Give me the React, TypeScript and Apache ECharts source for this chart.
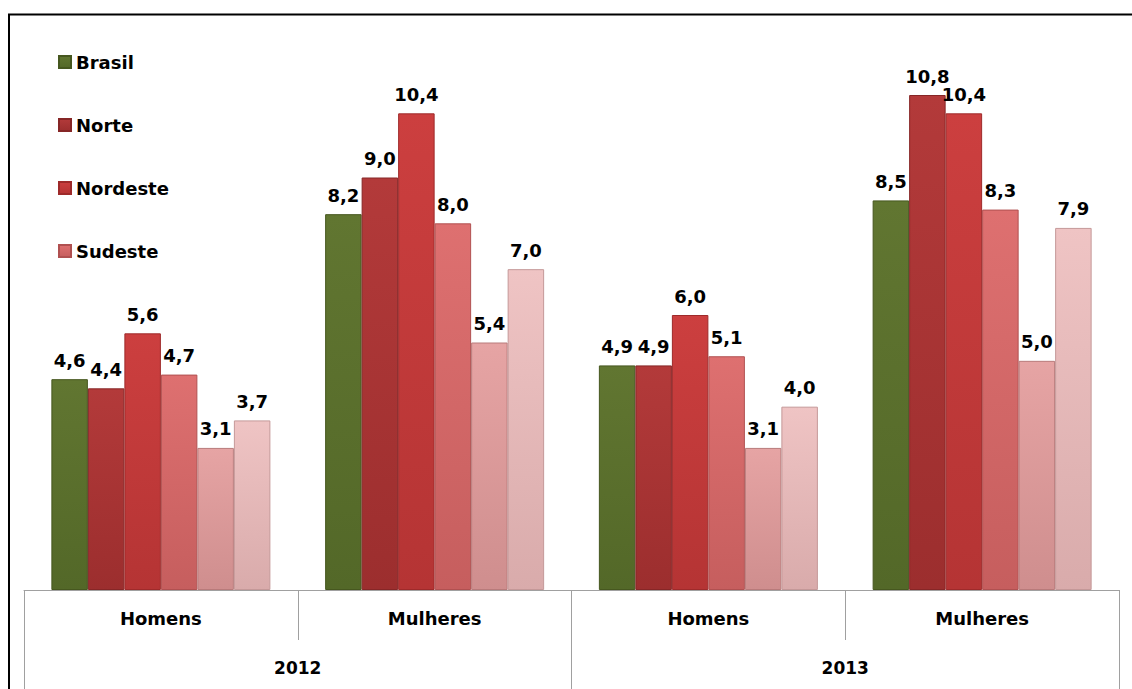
import React, { useEffect, useRef } from "react";
import * as echarts from "echarts";

const categories = ["Homens", "Mulheres", "Homens", "Mulheres"];
const years = ["2012", "2013"];
const seriesNames = ["Brasil", "Norte", "Nordeste", "Sudeste", "Sul", "Centro-Oeste"];
const brasil = [4.6, 8.2, 4.9, 8.5];
const norte = [4.4, 9.0, 4.9, 10.8];
const nordeste = [5.6, 10.4, 6.0, 10.4];
const sudeste = [4.7, 8.0, 5.1, 8.3];
const sul = [3.1, 5.4, 3.1, 5.0];
const centroOeste = [3.7, 7.0, 4.0, 7.9];
const legendNames = ["Brasil", "Norte", "Nordeste", "Sudeste"];

const seriesValues = [brasil, norte, nordeste, sudeste, sul, centroOeste];
const topColors = ["#617631", "#b33a3a", "#cc3f3f", "#de7070", "#e6a4a4", "#efc4c4"];
const bottomColors = ["#536828", "#9c2e2e", "#b53434", "#c65e5e", "#cf8e8e", "#d9abab"];
const borderColors = ["#46571f", "#862626", "#9e2a2a", "#b05050", "#b87a7a", "#c49898"];

const FONT = "DejaVu Sans";

export default function App() {
  const ref = useRef<HTMLDivElement>(null);
  useEffect(() => {
    if (!ref.current) return;
    const chart = echarts.init(ref.current, null, { renderer: "svg" });
    const series = seriesNames.map((name, i) => ({
      name,
      type: "bar",
      xAxisIndex: 0,
      barGap: "0%",
      barCategoryGap: "20%",
      data: seriesValues[i],
      itemStyle: {
        color: new echarts.graphic.LinearGradient(0, 0, 0, 1, [
          { offset: 0, color: topColors[i] },
          { offset: 1, color: bottomColors[i] },
        ]),
        borderColor: borderColors[i],
        borderWidth: 1,
      },
      label: {
        show: true,
        position: "top",
        distance: 10,
        fontFamily: FONT,
        fontWeight: "bold",
        fontSize: 18,
        color: "#000",
        formatter: (p: any) => Number(p.value).toFixed(1).replace(".", ","),
      },
    }));
    chart.setOption({
      animation: false,
      backgroundColor: "#fff",
      legend: {
        data: legendNames,
        orient: "vertical",
        left: 53,
        top: 48,
        itemWidth: 12,
        itemHeight: 12,
        itemGap: 45,
        itemTextGap: 8,
        icon: "rect",
        textStyle: { fontFamily: FONT, fontWeight: "bold", fontSize: 18, color: "#000" },
      },
      grid: { left: 24, right: 13, top: 40, bottom: 99, containLabel: false },
      xAxis: [
        {
          type: "category",
          data: categories,
          position: "bottom",
          axisLine: { show: true, lineStyle: { color: "#a0a0a0", width: 1 } },
          axisTick: { show: true, length: 50, lineStyle: { color: "#a0a0a0" } },
          axisLabel: {
            margin: 19,
            fontFamily: FONT,
            fontWeight: "bold",
            fontSize: 18,
            color: "#000",
          },
        },
        {
          type: "category",
          data: years,
          position: "bottom",
          axisLine: { show: false },
          axisTick: { show: true, length: 99, lineStyle: { color: "#a0a0a0" } },
          axisLabel: {
            margin: 69,
            fontFamily: FONT,
            fontWeight: "bold",
            fontSize: 17,
            color: "#000",
          },
        },
      ],
      yAxis: { type: "value", min: 0, max: 12, show: false },
      series,
      graphic: [
        {
          type: "rect",
          shape: { x: 9, y: 14.5, width: 1400, height: 1000 },
          style: { fill: "none", stroke: "#000", lineWidth: 2 },
          silent: true,
        },
      ],
    });
    return () => chart.dispose();
  }, []);
  return (
    <div
      ref={ref}
      style={{ position: "fixed", left: 0, top: 0, width: 1132, height: 689 }}
    />
  );
}
